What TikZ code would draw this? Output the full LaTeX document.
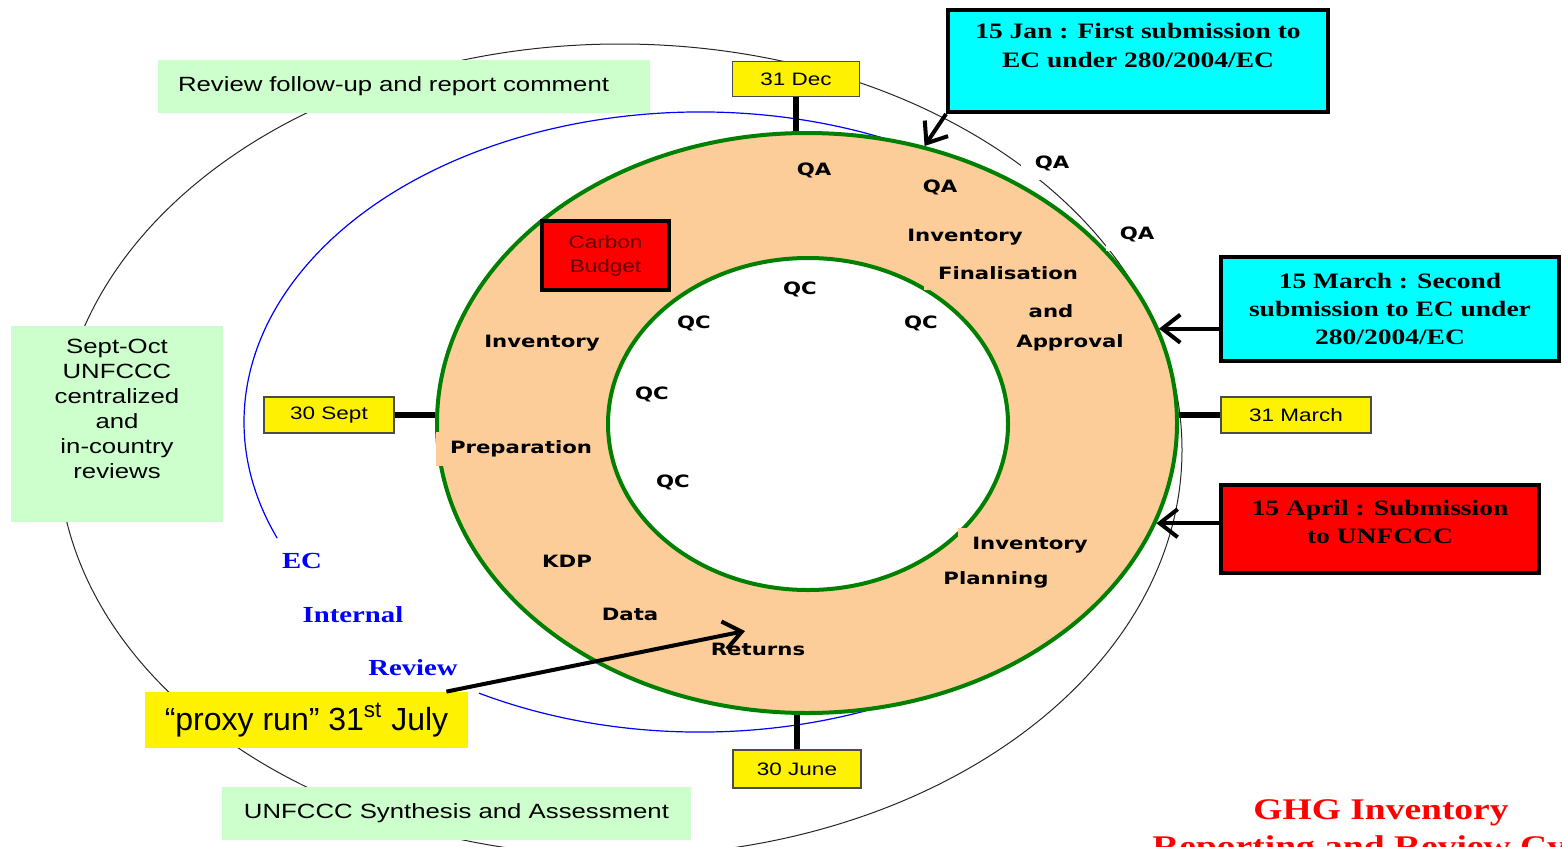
\documentclass[tikz,border=0pt]{standalone}
\usepackage{fontspec}
\setmainfont{Liberation Sans}[FakeStretch=1.25]
\newfontfamily\stagefont{DejaVu Sans}[FakeStretch=1.25]
\newfontfamily\serifbold{Liberation Serif}[FakeStretch=1.25]
\newfontfamily\proxyfont{Liberation Sans}
\usepackage{tikz}
\usetikzlibrary{arrows.meta,shapes.geometric}

\definecolor{peach}{RGB}{252,204,153}
\definecolor{ringgreen}{RGB}{0,128,0}
\definecolor{mint}{RGB}{204,255,204}
\definecolor{alertcyan}{RGB}{0,255,255}
\definecolor{alertred}{RGB}{255,0,0}
\definecolor{reviewblue}{RGB}{0,0,255}
\definecolor{budgettext}{RGB}{90,0,0}

\tikzset{
  stagelabel/.style={font=\stagefont\bfseries\fontsize{8.5}{10}\selectfont, fill=peach, inner xsep=7pt, inner ysep=0pt, minimum height=17pt},
  qclabel/.style={font=\stagefont\bfseries\fontsize{8.5}{10}\selectfont, inner sep=1pt},
  datebox/.style={draw=black!70, fill=yellow, line width=0.6pt, inner sep=0pt, font=\fontsize{9}{11}\selectfont},
  notebox/.style={fill=mint, inner sep=0pt, font=\fontsize{10.3}{12.5}\selectfont},
  deadline/.style={draw=black, line width=2pt, inner sep=0pt, align=center, font=\serifbold\bfseries\fontsize{11}{14}\selectfont},
  reviewlabel/.style={text=reviewblue, inner sep=1pt, font=\serifbold\bfseries\fontsize{11.5}{14}\selectfont},
  datetick/.style={line width=3pt},
  pointer/.style={line width=2pt, -{Straight Barb[length=9pt,width=14pt]}}
}

\begin{document}
\begin{tikzpicture}[x=0.5pt,y=0.5pt]
    \useasboundingbox (0,0) rectangle (1562,-846);
    % review loops round the cycle
    \draw[line width=0.5pt, black!85] (620,-450) ellipse [x radius=562, y radius=406];
    \draw[line width=0.6pt, reviewblue] (700,-422) ++(241:456 and 310)
      arc[start angle=241, end angle=562, x radius=456, y radius=310];

    % the inventory ring
    \node[ellipse, draw=ringgreen, fill=peach, line width=2pt, minimum width=370pt, minimum height=290pt, inner sep=0pt] (ring) at (807,-423) {};
    \node[ellipse, draw=ringgreen, fill=white, line width=2pt, minimum width=200pt, minimum height=166pt, inner sep=0pt] (core) at (808,-424) {};

    \node[stagelabel] (qa1) at (814,-170) {QA};
    \node[stagelabel] (qa2) at (940,-187) {QA};
    \node[stagelabel, fill=white] (qa3) at (1052,-163) {QA};
    \node[stagelabel, fill=white] (qa4) at (1137,-234) {QA};
    \node[stagelabel] (fin1) at (965,-237) {Inventory};
    \node[stagelabel] (fin2) at (1008,-273) {Finalisation};
    \node[stagelabel] (fin3) at (1051,-311) {and};
    \node[stagelabel] (fin4) at (1070,-343) {Approval};
    \node[stagelabel] (prep1) at (542,-343) {Inventory};
    \node[stagelabel] (prep2) at (521,-449) {Preparation};
    \node[stagelabel] (kdp) at (567,-561) {KDP};
    \node[stagelabel] (data) at (630,-614) {Data};
    \node[stagelabel] (returns) at (758,-649) {Returns};
    \node[stagelabel] (plan1) at (1030,-545) {Inventory};
    \node[stagelabel] (plan2) at (996,-580) {Planning};

    \node[qclabel] (qc1) at (800,-289) {QC};
    \node[qclabel] (qc2) at (694,-323) {QC};
    \node[qclabel] (qc3) at (921,-323) {QC};
    \node[qclabel] (qc4) at (652,-394) {QC};
    \node[qclabel] (qc5) at (673,-482) {QC};

    \node[draw=black, fill=alertred, line width=2pt, minimum width=63.5pt, minimum height=34.5pt, inner sep=0pt,
      align=center, text=budgettext, font=\fontsize{9}{12}\selectfont] (budget) at (605.5,-255.5) {Carbon\\Budget};

    % dates on the ring
    \node[datebox, minimum width=63.5pt, minimum height=17.5pt] (dec) at (796,-79) {31 Dec};
    \node[datebox, minimum width=64pt, minimum height=19pt] (june) at (797,-769) {30 June};
    \node[datebox, minimum width=65pt, minimum height=18pt] (sept) at (329,-415) {30 Sept};
    \node[datebox, minimum width=75pt, minimum height=18pt] (mar31) at (1296,-415) {31 March};
    \draw[datetick] (dec.south) -- (dec.south |- ring.north);
    \draw[datetick] (june.north) -- (june.north |- ring.south);
    \draw[datetick] (sept.east) -- (sept.east -| ring.west);
    \draw[datetick] (mar31.west) -- (mar31.west -| ring.east);

    % submissions
    \node[deadline, fill=alertcyan, minimum width=190pt, text height=21.5pt, text depth=15.5pt, inner ysep=7pt] (jan) at (1138,-61)
      {15 Jan : First submission to\\EC under 280/2004/EC};
    \node[deadline, fill=alertcyan, minimum width=169pt, minimum height=52pt] (mar) at (1390,-309)
      {15 March : Second\\submission to EC under\\280/2004/EC};
    \node[deadline, fill=alertred, minimum width=159pt, text height=21.5pt, text depth=7.5pt, inner ysep=7.5pt] (apr) at (1380,-529)
      {15 April : Submission\\to UNFCCC};
    \draw[pointer] (jan.south west) -- (ring.67);
    \draw[pointer] (mar.west |- ring.15) -- (ring.15);
    \draw[pointer] (apr.west |- ring.-16) -- (ring.-16);

    % reviews
    \node[notebox, text width=226pt, inner xsep=10pt, minimum height=26.5pt, align=left] (followup) at (404,-86.5)
      {Review follow-up and report comment};
    \node[notebox, anchor=north, text width=106pt, align=center, text height=7.5pt, text depth=78.5pt, inner ysep=6pt] (incountry) at (117,-326)
      {Sept-Oct\\UNFCCC\\centralized\\and\\in-country\\reviews};
    \node[notebox, minimum width=234.5pt, minimum height=26.5pt] (synthesis) at (456.5,-813.5) {UNFCCC Synthesis and Assessment};
    \node[reviewlabel] (ec) at (302,-561) {EC};
    \node[reviewlabel] (internal) at (353,-615) {Internal};
    \node[reviewlabel] (review) at (413,-668) {Review};

    \node[fill=yellow, minimum width=161.5pt, minimum height=28pt, inner sep=0pt, font=\proxyfont\fontsize{16}{19}\selectfont] (proxy) at (306.5,-720)
      {“proxy run” 31\textsuperscript{st} July};
    \coordinate (returnsTip) at (745,-631);
    \draw[pointer] ([xshift=-11pt]proxy.north east) -- (returnsTip);

    \node[anchor=base, align=center, text=alertred, font=\serifbold\bfseries\fontsize{15}{18.5}\selectfont] (title) at (1381,-856)
      {GHG Inventory\\Reporting and Review Cycle};
  \end{tikzpicture}
\end{document}
